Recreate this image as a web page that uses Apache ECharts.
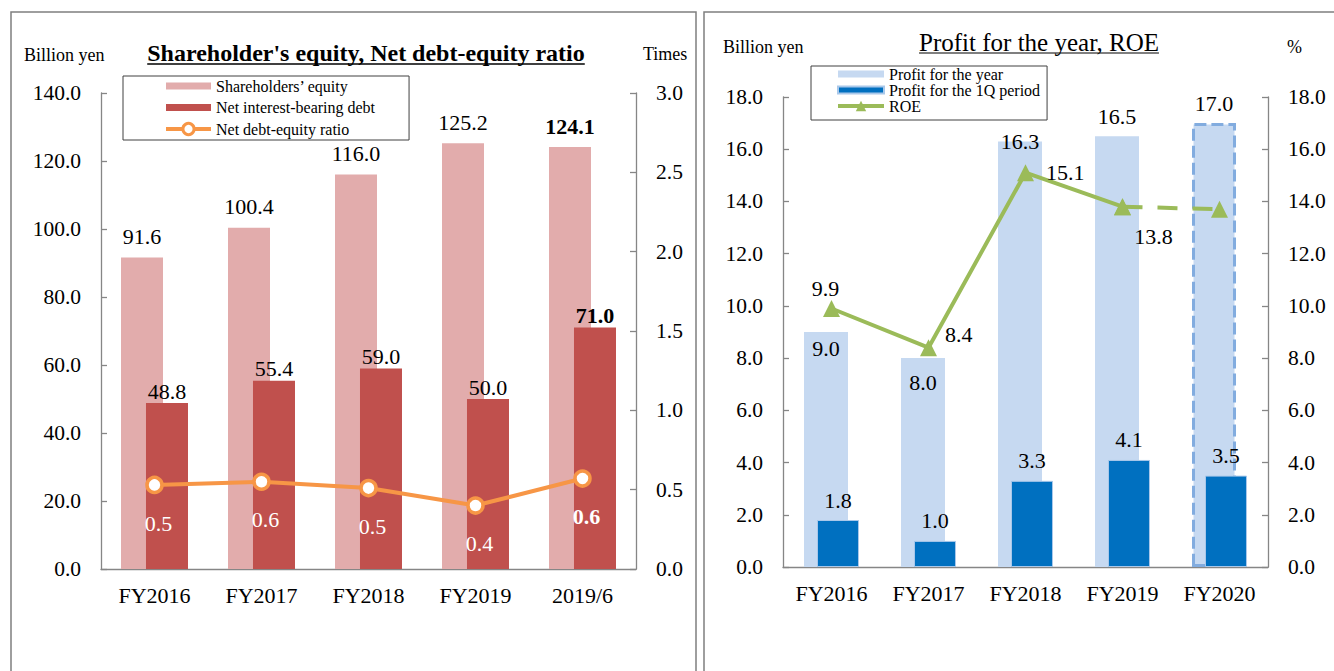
<!DOCTYPE html>
<html lang="en">
<head>
	<meta charset="UTF-8">
	<title>Shareholder's equity, Net debt-equity ratio / Profit for the year, ROE</title>
	<style>
		html, body { margin: 0; padding: 0; background: #fff; }
		#box { width: 1334px; height: 671px; }
	</style>
</head>
<body>
	<div id="box"></div>

	<script src="https://cdn.jsdelivr.net/npm/echarts@6/dist/echarts.min.js"></script>
	<script>
		// left chart
		var leftCats = ['FY2016', 'FY2017', 'FY2018', 'FY2019', '2019/6'];
		var equity = [91.6, 100.4, 116.0, 125.2, 124.1];
		var netDebt = [48.8, 55.4, 59.0, 50.0, 71.0];
		var deRatio = [0.53, 0.55, 0.51, 0.40, 0.57];
		var leftTicks = [0, 20, 40, 60, 80, 100, 120, 140];
		var ratioTicks = [0, 0.5, 1.0, 1.5, 2.0, 2.5, 3.0];

		// right chart
		var rightCats = ['FY2016', 'FY2017', 'FY2018', 'FY2019', 'FY2020'];
		var profitYear = [9.0, 8.0, 16.3, 16.5, 17.0];
		var profit1Q = [1.8, 1.0, 3.3, 4.1, 3.5];
		var roe = [9.9, 8.4, 15.1, 13.8, 13.7];
		var roeForecastFrom = 3;   // FY2019 -> FY2020 drawn dashed
		var profitTicks = [0, 2, 4, 6, 8, 10, 12, 14, 16, 18];

		var SERIF = '"Liberation Serif", "Times New Roman", Times, serif';
		var AXIS_GRAY = '#868686';

		var oBox = document.getElementById('box');
		var myChart = echarts.init(oBox, null, { renderer: 'svg' });

		function fmt1(v) { return Number(v).toFixed(1); }

		function textWidth(str, font) {
			var ctx = document.createElement('canvas').getContext('2d');
			ctx.font = font;
			return ctx.measureText(str).width;
		}

		function xAxisOf(grid, cats) {
			return {
				type: 'category', gridIndex: grid, data: cats,
				axisLine: { lineStyle: { color: AXIS_GRAY, width: 1.3 } },
				axisTick: { inside: true, length: 6, lineStyle: { color: AXIS_GRAY, width: 1.3 } },
				axisLabel: { interval: 0, color: '#000', fontSize: 22, margin: 15, fontFamily: SERIF }
			};
		}

		function yAxisOf(grid, pos, ticks) {
			return {
				type: 'value', gridIndex: grid, position: pos,
				min: ticks[0], max: ticks[ticks.length - 1], interval: ticks[1] - ticks[0],
				splitLine: { show: false },
				axisLine: { show: true, lineStyle: { color: AXIS_GRAY, width: 1.3 } },
				axisTick: { show: true, inside: true, length: 6, lineStyle: { color: AXIS_GRAY, width: 1.3 } },
				axisLabel: { color: '#000', fontSize: 21.5, margin: 20, fontFamily: SERIF, formatter: fmt1 }
			};
		}

		// last column of the left chart is shown in bold
		function boldLast(arr) {
			return arr.map(function (v, i) {
				return i === arr.length - 1 ? { value: v, label: { fontWeight: 'bold' } } : v;
			});
		}

		var profitLabelTweaks = [
			{ position: 'insideTop', distance: 5 },
			{ position: 'insideTop', distance: 13 },
			{ position: 'top', distance: 10, offset: [0, 21] },
			{},
			{}
		];
		var roeLabelTweaks = [
			{ position: 'top', distance: 1, offset: [-6, 0] },
			{ position: 'right', distance: 8, offset: [0, -13] },
			{ position: 'right', distance: 12 },
			{ position: 'bottom', distance: 10, offset: [31, 0] },
			{ show: false }
		];

		var labelBase = { show: true, color: '#000', fontSize: 22, fontFamily: SERIF, formatter: function (p) { return fmt1(p.value); } };

		// thin bar swatch for the legends (line items keep their line+symbol icon)
		var swatch = 'path://M0,0 L45,0 L45,7 L0,7 Z';

		var leftTitle = "Shareholder's equity, Net debt-equity ratio";
		var rightTitle = 'Profit for the year, ROE';
		var ltFont = 'bold 24px ' + SERIF;
		var rtFont = '25px ' + SERIF;
		var ltW = textWidth(leftTitle, ltFont);
		var rtW = textWidth(rightTitle, rtFont);

		var option = {
			animation: false,
			textStyle: { fontFamily: SERIF },
			grid: [
				{ left: 101, top: 93, width: 535, height: 476, outerBoundsMode: 'none' },
				{ left: 783, top: 97, width: 485, height: 470, outerBoundsMode: 'none' }
			],
			legend: [
				{
					orient: 'vertical', left: 123, top: 76,
					padding: [2, 34, 3, 41], itemGap: 5.5, itemWidth: 45, itemHeight: 14,
					borderColor: '#404040', borderWidth: 1,
					lineStyle: { width: 4 },
					itemStyle: { borderWidth: 3 },
					textStyle: { fontSize: 16, lineHeight: 16, color: '#000', fontFamily: SERIF },
					data: [
						{ name: 'Shareholders’ equity', icon: swatch },
						{ name: 'Net interest-bearing debt', icon: swatch },
						{ name: 'Net debt-equity ratio' }
					]
				},
				{
					orient: 'vertical', left: 811, top: 66,
					padding: [0, 7, 6, 25], itemGap: 0, itemWidth: 46, itemHeight: 13,
					borderColor: '#404040', borderWidth: 1,
					lineStyle: { width: 4 },
					textStyle: { fontSize: 16, lineHeight: 16, color: '#000', fontFamily: SERIF },
					data: [
						{ name: 'Profit for the year', icon: swatch },
						{ name: 'Profit for the 1Q period', icon: swatch },
						{ name: 'ROE' }
					]
				}
			],
			xAxis: [xAxisOf(0, leftCats), xAxisOf(1, rightCats)],
			yAxis: [
				yAxisOf(0, 'left', leftTicks),
				yAxisOf(0, 'right', ratioTicks),
				yAxisOf(1, 'left', profitTicks),
				yAxisOf(1, 'right', profitTicks)
			],
			series: [
				{
					name: 'Shareholders’ equity', type: 'bar', xAxisIndex: 0, yAxisIndex: 0,
					barWidth: 42, itemStyle: { color: '#E2ACAC' },
					label: Object.assign({}, labelBase, { position: 'top', distance: 10 }),
					data: boldLast(equity)
				},
				{
					name: 'Net interest-bearing debt', type: 'bar', xAxisIndex: 0, yAxisIndex: 0,
					barWidth: 42, barGap: '-40.5%', itemStyle: { color: '#C0504D' },
					label: Object.assign({}, labelBase, { position: 'top', distance: 1 }),
					data: boldLast(netDebt)
				},
				{
					name: 'Net debt-equity ratio', type: 'line', xAxisIndex: 0, yAxisIndex: 1, z: 5,
					symbol: 'circle', symbolSize: 15, showAllSymbol: true,
					lineStyle: { color: '#F79646', width: 4 },
					itemStyle: { color: '#fff', borderColor: '#F79646', borderWidth: 3.5 },
					label: Object.assign({}, labelBase, { color: '#fff', position: 'bottom', distance: 18, offset: [4, 0] }),
					data: boldLast(deRatio)
				},
				{
					name: 'Profit for the year', type: 'bar', xAxisIndex: 1, yAxisIndex: 2,
					barWidth: 44, itemStyle: { color: '#C6D9F1' },
					label: Object.assign({}, labelBase, { position: 'top', distance: 9 }),
					data: profitYear.map(function (v, i) {
						var item = { value: v, label: profitLabelTweaks[i] };
						if (i === profitYear.length - 1) {
							item.itemStyle = { borderColor: '#82ACDF', borderWidth: 3, borderType: [12, 5] };
						}
						return item;
					})
				},
				{
					name: 'Profit for the 1Q period', type: 'bar', xAxisIndex: 1, yAxisIndex: 2,
					barWidth: 42, barGap: '-70.5%',
					itemStyle: { color: '#0070C0', borderColor: '#A9C8EA', borderWidth: 1 },
					label: Object.assign({}, labelBase, { position: 'top', distance: 9 }),
					data: profit1Q
				},
				{
					name: 'ROE', type: 'line', xAxisIndex: 1, yAxisIndex: 3, z: 5,
					symbol: 'triangle', symbolSize: 17,
					lineStyle: { color: '#9BBB59', width: 4 },
					itemStyle: { color: '#9BBB59' },
					label: Object.assign({}, labelBase),
					data: roe.map(function (v, i) {
						return i > roeForecastFrom ? '-' : { value: v, label: roeLabelTweaks[i] };
					})
				},
				{
					name: 'ROE forecast', type: 'line', xAxisIndex: 1, yAxisIndex: 3, z: 5,
					symbol: 'triangle', symbolSize: 17,
					lineStyle: { color: '#9BBB59', width: 4, type: [20, 15] },
					itemStyle: { color: '#9BBB59' },
					data: roe.map(function (v, i) {
						return i < roeForecastFrom ? '-' : v;
					})
				}
			],
			graphic: [
				// panel frames
				{ type: 'rect', silent: true, z: -10, shape: { x: 11, y: 12, width: 685, height: 720 },
				  style: { fill: 'none', stroke: '#7F7F7F', lineWidth: 1.5 } },
				{ type: 'rect', silent: true, z: -10, shape: { x: 704, y: 12, width: 700, height: 720 },
				  style: { fill: 'none', stroke: '#7F7F7F', lineWidth: 1.5 } },
				// titles + underline
				{ type: 'text', x: 366, y: 53, style: { text: leftTitle, font: ltFont, fill: '#000', align: 'center', verticalAlign: 'middle' } },
				{ type: 'line', shape: { x1: 366 - ltW / 2, y1: 64, x2: 366 + ltW / 2, y2: 64 }, style: { stroke: '#000', lineWidth: 1.5 } },
				{ type: 'text', x: 1039, y: 42, style: { text: rightTitle, font: rtFont, fill: '#000', align: 'center', verticalAlign: 'middle' } },
				{ type: 'line', shape: { x1: 1039 - rtW / 2, y1: 53, x2: 1039 + rtW / 2, y2: 53 }, style: { stroke: '#000', lineWidth: 1.2 } },
				// units
				{ type: 'text', x: 24, y: 55, style: { text: 'Billion yen', font: '18px ' + SERIF, fill: '#000', verticalAlign: 'middle' } },
				{ type: 'text', x: 643, y: 54, style: { text: 'Times', font: '18px ' + SERIF, fill: '#000', verticalAlign: 'middle' } },
				{ type: 'text', x: 723, y: 47, style: { text: 'Billion yen', font: '18px ' + SERIF, fill: '#000', verticalAlign: 'middle' } },
				{ type: 'text', x: 1287, y: 47, style: { text: '%', font: '18px ' + SERIF, fill: '#000', verticalAlign: 'middle' } }
			]
		};

		myChart.setOption(option);
	</script>
</body>
</html>
